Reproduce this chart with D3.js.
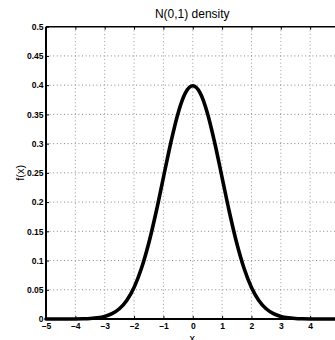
<!DOCTYPE html>
<html>
<head>
<meta charset="utf-8">
<script src="https://cdn.jsdelivr.net/npm/d3@7"></script>
<style>
html,body{margin:0;padding:0;background:#fff;overflow:hidden;}
svg{display:block;}
</style>
</head>
<body>
<svg id="chart" width="335" height="340"></svg>
<script>
// Data (standard normal density)
const xValues = [-5,-4.75,-4.5,-4.25,-4,-3.75,-3.5,-3.25,-3,-2.75,-2.5,-2.25,-2,-1.75,-1.5,-1.25,-1,-0.75,-0.5,-0.25,0,
  0.25,0.5,0.75,1,1.25,1.5,1.75,2,2.25,2.5,2.75,3,3.25,3.5,3.75,4,4.25,4.5,4.75,5];
const yValues = [0.0000,0.0000,0.00002,0.00005,0.0001,0.0004,0.0009,0.0020,0.0044,0.0091,0.0175,0.0317,0.0540,0.0863,0.1295,0.1826,0.2420,0.3011,0.3521,0.3867,0.3989,
  0.3867,0.3521,0.3011,0.2420,0.1826,0.1295,0.0863,0.0540,0.0317,0.0175,0.0091,0.0044,0.0020,0.0009,0.0004,0.0001,0.00005,0.00002,0.0000,0.0000];
const xTicks = [-5,-4,-3,-2,-1,0,1,2,3,4,5];
const xTickLabels = ["\u20135","\u20134","\u20133","\u20132","\u20131","0","1","2","3","4","5"];
const yTicks = [0,0.05,0.1,0.15,0.2,0.25,0.3,0.35,0.4,0.45,0.5];
const yTickLabels = ["0","0.05","0.1","0.15","0.2","0.25","0.3","0.35","0.4","0.45","0.5"];
const titleText = "N(0,1) density";
const xLabelText = "x";
const yLabelText = "f(x)";

(function(){
const svg = d3.select("#chart");
const pL = 46, pR = 339.5, pT = 26.7, pB = 319;
const x = d3.scaleLinear().domain([-5,5]).range([pL,pR]);
const y = d3.scaleLinear().domain([0,0.5]).range([pB,pT]);
const font = "'Liberation Sans', Arial, Helvetica, sans-serif";

// grid
const grid = svg.append("g");
grid.selectAll("line.v").data(xTicks.slice(1,-1)).enter().append("line")
  .attr("x1",d=>x(d)).attr("x2",d=>x(d)).attr("y1",pT).attr("y2",pB)
  .attr("stroke","#999").attr("stroke-width",1).attr("stroke-dasharray","1,2.6");
grid.selectAll("line.h").data(yTicks.slice(1,-1)).enter().append("line")
  .attr("y1",d=>y(d)).attr("y2",d=>y(d)).attr("x1",pL).attr("x2",pR)
  .attr("stroke","#888").attr("stroke-width",1).attr("stroke-dasharray","1,2.6");

// curve
const line = d3.line().x((d,i)=>x(xValues[i])).y(d=>y(d)).curve(d3.curveMonotoneX);
svg.append("path").datum(yValues).attr("d",line)
  .attr("fill","none").attr("stroke","#000").attr("stroke-width",3.6)
  .attr("stroke-linejoin","round").attr("stroke-linecap","round");

// axes box
const axB = d3.axisBottom(x).tickValues(xTicks).tickSize(-3).tickFormat((d,i)=>xTickLabels[i]);
const axT = d3.axisTop(x).tickValues(xTicks).tickSize(-3).tickFormat("");
const axL = d3.axisLeft(y).tickValues(yTicks).tickSize(-3).tickFormat((d,i)=>yTickLabels[i]);
const axR = d3.axisRight(y).tickValues(yTicks).tickSize(-3).tickFormat("");

function styleAxis(g, w){
  g.select(".domain").attr("stroke","#000").attr("stroke-width",w);
  g.selectAll(".tick line").attr("stroke","#000").attr("stroke-width",1);
  g.selectAll("text").attr("font-family",font).attr("font-weight","bold")
   .attr("font-size","8.5px").attr("fill","#000");
}
const gB = svg.append("g").attr("transform",`translate(0,${pB})`).call(axB);
styleAxis(gB,2);
gB.selectAll(".domain").attr("d",`M${pL},0H${pR}`);
gB.selectAll("text").attr("y",10).attr("dy","0");
const gT = svg.append("g").attr("transform",`translate(0,${pT})`).call(axT);
styleAxis(gT,1.5);
gT.selectAll(".domain").attr("d",`M${pL},0H${pR}`);
const gL = svg.append("g").attr("transform",`translate(${pL},0)`).call(axL);
styleAxis(gL,2);
gL.selectAll(".domain").attr("d",`M0,${pB}V${pT}`);
gL.selectAll("text").attr("x",-2.5);
const gR = svg.append("g").attr("transform",`translate(${pR},0)`).call(axR);
styleAxis(gR,1.5);
gR.selectAll(".domain").attr("d",`M0,${pB}V${pT}`);

// title & labels
svg.append("text").attr("x",(pL+pR)/2-0.5).attr("y",18).attr("text-anchor","middle")
  .attr("font-family",font).attr("font-size","12px").attr("fill","#000").text(titleText);
svg.append("text").attr("x",(pL+pR)/2-0.5).attr("y",342).attr("text-anchor","middle")
  .attr("font-family",font).attr("font-size","11px").attr("fill","#000").text(xLabelText);
svg.append("text").attr("transform",`translate(24,${(pT+pB)/2})rotate(-90)`).attr("text-anchor","middle")
  .attr("font-family",font).attr("font-size","11px").attr("fill","#000").text(yLabelText);
})();
</script>
</body>
</html>
